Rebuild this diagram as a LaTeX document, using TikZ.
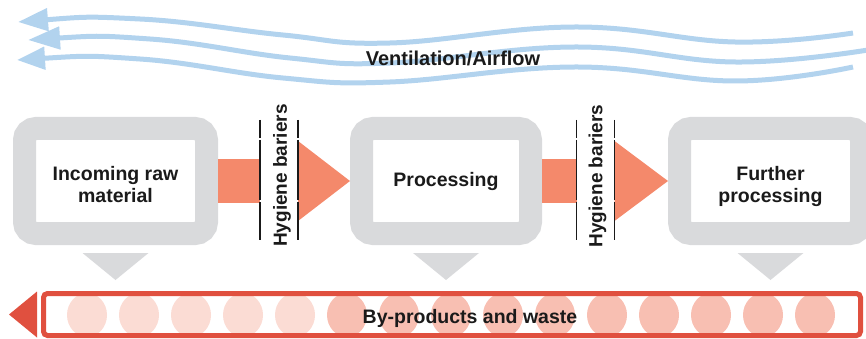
\documentclass[tikz,border=0pt]{standalone}
\usepackage{fontspec}
\setmainfont{Liberation Sans}
\usetikzlibrary{arrows.meta}
\definecolor{airblue}{HTML}{B2D3EE}
\definecolor{framegray}{HTML}{D9DADC}
\definecolor{flowred}{HTML}{F4896B}
\definecolor{wastered}{HTML}{E0503F}
\definecolor{dotlight}{HTML}{FBDCD4}
\definecolor{dotdark}{HTML}{F8BFB2}
\definecolor{ink}{HTML}{1A1A1A}
\begin{document}
\begin{tikzpicture}[x=1pt,y=-1pt,
  stage/.style={draw=framegray,fill=white,line width=23pt,rounded corners=11.5pt,minimum width=182pt,minimum height=105pt},
  lbl/.style={text=ink,font=\fontsize{19.5}{22}\selectfont\bfseries,align=center},
  air/.style={draw=airblue,line width=5pt,arrows={Triangle[length=30pt,width=22pt]-}},
  flow/.style={fill=flowred},
  barrier/.style={draw=ink,line width=1.5pt,dash pattern=on 18pt off 2pt on 60pt off 2pt on 38pt off 10pt},
  drop/.style={fill=framegray}]
\useasboundingbox (0,0) rectangle (866,339);
\clip (0,0) rectangle (866,339);
% airflow
\draw[air] plot[smooth, tension=.7] coordinates {(18,22) (140,19) (283,35) (390,43) (575,27) (735,42) (853,33)};
\draw[air,arrows={Triangle[length=32pt,width=22pt]-}] plot[smooth, tension=.7] coordinates {(28,40) (150,39) (290,58) (390,63) (575,47) (735,62) (868,50)};
\draw[air,arrows={Triangle[length=28pt,width=22pt]-}] plot[smooth, tension=.7] coordinates {(17,60) (140,59) (283,78) (390,82) (575,67) (735,81) (853,67)};
\node[lbl,font=\fontsize{20}{24}\selectfont\bfseries] (airtxt) at (453,58) {Ventilation/Airflow};
% stages
\node[stage] (raw) at (115.5,181) {};
\node[stage,minimum width=169pt] (proc) at (446,181) {};
\node[stage] (further) at (770.5,181) {};
\node[lbl] (rawtxt) at ([yshift=-4pt]raw.center) {Incoming raw\\material};
\node[lbl] (proctxt) at ([yshift=-1pt]proc.center) {Processing};
\node[lbl] (furthertxt) at ([yshift=-6pt]further.center) {Further\\processing};
% flow and barriers
\coordinate (bar1) at (279,181);
\coordinate (bar2) at (595.5,181);
\fill[flow] ([yshift=22pt]raw.east) rectangle ([xshift=-19pt,yshift=-22pt]bar1);
\fill[flow] ([xshift=19pt,yshift=40pt]bar1) -- (proc.west) -- ([xshift=19pt,yshift=-40pt]bar1) -- cycle;
\fill[flow] ([yshift=22pt]proc.east) rectangle ([xshift=-19pt,yshift=-22pt]bar2);
\fill[flow] ([xshift=19pt,yshift=40pt]bar2) -- (further.west) -- ([xshift=19pt,yshift=-40pt]bar2) -- cycle;
\foreach \b in {bar1,bar2} {
  \draw[barrier] ([xshift=-19pt,yshift=61pt]\b) -- ([xshift=-19pt,yshift=-59pt]\b);
  \draw[barrier] ([xshift=19pt,yshift=61pt]\b) -- ([xshift=19pt,yshift=-59pt]\b);
}
\node[lbl,rotate=90,font=\fontsize{19}{22}\selectfont\bfseries] (hyg1) at ([xshift=3pt,yshift=5.5pt]bar1) {Hygiene bariers};
\node[lbl,rotate=90,font=\fontsize{19}{22}\selectfont\bfseries] (hyg2) at ([xshift=2pt,yshift=5pt]bar2) {Hygiene bariers};
% by-products
\foreach \n in {raw,proc,further}
  \fill[drop] ([xshift=-33pt,yshift=-8pt]\n.south) -- ([xshift=33pt,yshift=-8pt]\n.south) -- ([yshift=-35pt]\n.south) -- cycle;
\foreach \x in {87,139,...,295}
  \fill[dotlight] (\x,315) ellipse [x radius=20pt,y radius=22pt];
\foreach \x in {347,399,...,815}
  \fill[dotdark] (\x,315) ellipse [x radius=20pt,y radius=22pt];
\node[draw=wastered,line width=5pt,rounded corners=4pt,minimum width=817pt,minimum height=42pt] (waste) at (452,314.5) {};
\fill[wastered] ([xshift=-4pt,yshift=23pt]waste.west) -- ([xshift=-32pt]waste.west) -- ([xshift=-4pt,yshift=-23pt]waste.west) -- cycle;
\node[lbl] (wastetxt) at (470,318) {By-products and waste};
\end{tikzpicture}
\end{document}
